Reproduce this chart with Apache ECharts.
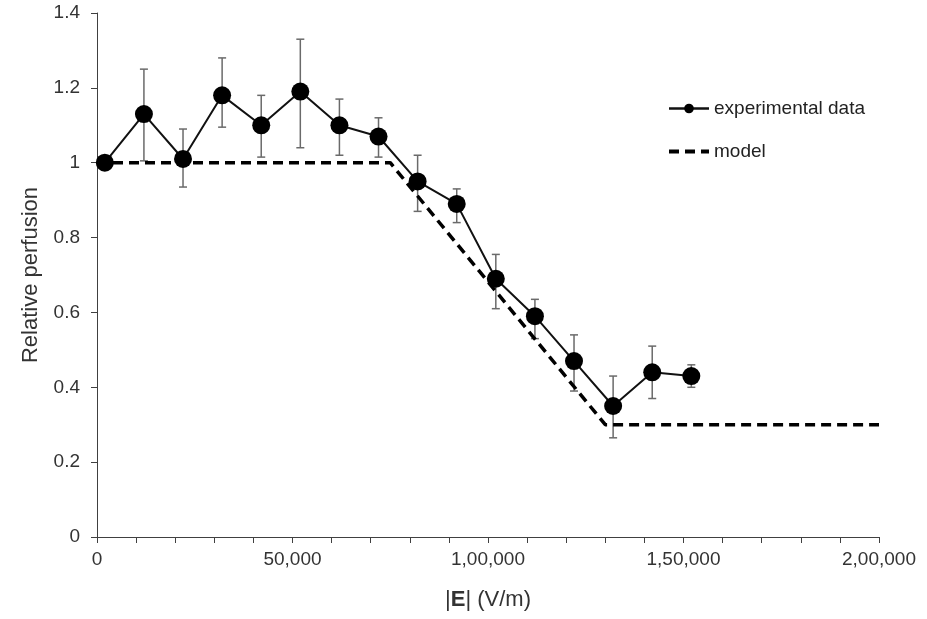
<!DOCTYPE html>
<html>
<head>
<meta charset="utf-8">
<script src="https://cdn.jsdelivr.net/npm/echarts@6/dist/echarts.min.js"></script>
<style>
  html, body { margin: 0; padding: 0; background: #fff; }
  #chart { width: 927px; height: 619px; }
</style>
</head>
<body>
<div id="chart"></div>
<script>
// field strength |E| (V/m) of each measurement
var fieldValues = [2000, 12000, 22000, 32000, 42000, 52000, 62000, 72000,
                   82000, 92000, 102000, 112000, 122000, 132000, 142000, 152000];
// relative perfusion, mean
var perfusion = [1.00, 1.13, 1.01, 1.18, 1.10, 1.19, 1.10, 1.07,
                 0.95, 0.89, 0.69, 0.59, 0.47, 0.35, 0.44, 0.43];
// error bar ends
var errHigh = [1.00, 1.25, 1.09, 1.28, 1.18, 1.33, 1.17, 1.12,
               1.02, 0.93, 0.755, 0.635, 0.54, 0.43, 0.51, 0.46];
var errLow = [1.00, 1.005, 0.935, 1.095, 1.015, 1.04, 1.02, 1.015,
              0.87, 0.84, 0.61, 0.53, 0.39, 0.265, 0.37, 0.40];
// model curve
var modelX = [0, 75000, 130000, 200000];
var modelY = [1, 1, 0.3, 0.3];
// x tick labels (every 50,000)
var xTickLabels = ['0', '50,000', '1,00,000', '1,50,000', '2,00,000'];

var chart = echarts.init(document.getElementById('chart'));

var expData = fieldValues.map(function (x, i) { return [x, perfusion[i]]; });
var errData = fieldValues.map(function (x, i) { return [x, errLow[i], errHigh[i]]; });
var modelData = modelX.map(function (x, i) { return [x, modelY[i]]; });

var axisColor = '#404040';
var textColor = '#333';
var fontFamily = '"Liberation Sans", Arial, sans-serif';

var option = {
    animation: false,
    backgroundColor: '#fff',
    grid: {
        left: 97,
        right: 48,
        top: 13,
        bottom: 82
    },
    legend: {
        orient: 'vertical',
        left: 662,
        top: 94,
        itemGap: 24,
        itemWidth: 40,
        itemHeight: 12,
        textStyle: { color: '#222', fontSize: 19, fontFamily: fontFamily },
        data: [
            { name: 'experimental data', lineStyle: { width: 2.5 } },
            { name: 'model', itemStyle: { opacity: 0 }, lineStyle: { width: 4 } }
        ]
    },
    xAxis: {
        type: 'value',
        min: 0,
        max: 200000,
        interval: 10000,
        name: '|{b|E}| (V/m)',
        nameLocation: 'middle',
        nameGap: 52,
        nameTextStyle: {
            color: textColor,
            fontSize: 22,
            fontFamily: fontFamily,
            rich: { b: { fontWeight: 'bold', fontSize: 22, fontFamily: fontFamily, color: textColor } }
        },
        axisLine: { lineStyle: { color: axisColor, width: 1 } },
        axisTick: { length: 6, lineStyle: { color: axisColor } },
        splitLine: { show: false },
        axisLabel: {
            color: textColor,
            fontSize: 19,
            fontFamily: fontFamily,
            margin: 13,
            formatter: function (v) {
                if (v % 50000 !== 0) return '';
                return xTickLabels[v / 50000];
            }
        }
    },
    yAxis: {
        type: 'value',
        min: 0,
        max: 1.4,
        interval: 0.2,
        name: 'Relative perfusion',
        nameLocation: 'middle',
        nameGap: 55,
        nameTextStyle: { color: textColor, fontSize: 22, fontFamily: fontFamily },
        axisLine: { show: true, lineStyle: { color: axisColor, width: 1 } },
        axisTick: { show: true, length: 6, lineStyle: { color: axisColor } },
        splitLine: { show: false },
        axisLabel: { color: textColor, fontSize: 19, fontFamily: fontFamily, margin: 17 }
    },
    series: [
        {
            name: 'errors',
            type: 'custom',
            z: 1,
            data: errData,
            renderItem: function (params, api) {
                var x = api.value(0);
                var lo = api.coord([x, api.value(1)]);
                var hi = api.coord([x, api.value(2)]);
                var half = 4;
                var style = { stroke: '#6a6a6a', lineWidth: 1.5 };
                return {
                    type: 'group',
                    children: [
                        { type: 'line', shape: { x1: hi[0], y1: hi[1], x2: lo[0], y2: lo[1] }, style: style },
                        { type: 'line', shape: { x1: hi[0] - half, y1: hi[1], x2: hi[0] + half, y2: hi[1] }, style: style },
                        { type: 'line', shape: { x1: lo[0] - half, y1: lo[1], x2: lo[0] + half, y2: lo[1] }, style: style }
                    ]
                };
            }
        },
        {
            name: 'model',
            type: 'line',
            z: 2,
            data: modelData,
            symbol: 'none',
            lineStyle: { color: '#000', width: 3.5, type: [10, 6] },
            itemStyle: { color: '#000' }
        },
        {
            name: 'experimental data',
            type: 'line',
            z: 3,
            data: expData,
            symbol: 'circle',
            symbolSize: 18,
            lineStyle: { color: '#111', width: 2 },
            itemStyle: { color: '#000' }
        }
    ]
};

chart.setOption(option);
</script>
</body>
</html>
